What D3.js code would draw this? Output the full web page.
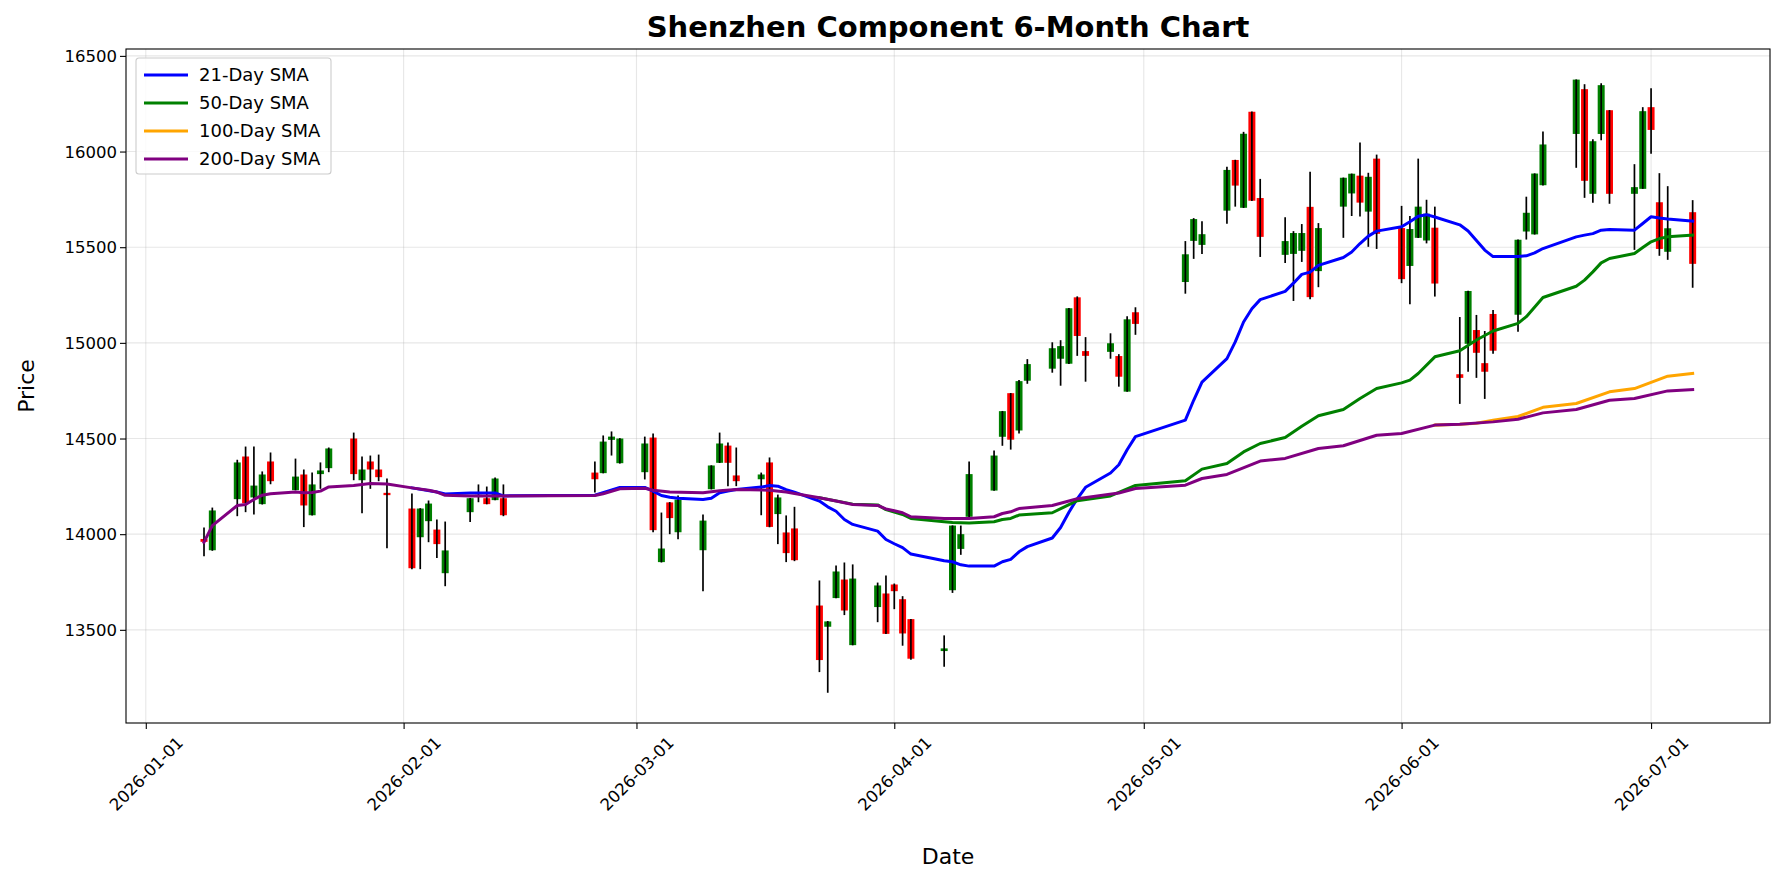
<!DOCTYPE html>
<html>
<head>
<meta charset="utf-8">
<script src="https://cdn.jsdelivr.net/npm/d3@7"></script>
<style>
  body { margin: 0; background: #fff; }
  svg { font-family: "DejaVu Sans", sans-serif; }
</style>
</head>
<body>
<svg id="chart" width="1785" height="885"></svg>
<script>
// Daily candles
const dates = [
  '2026-01-08','2026-01-09','2026-01-12','2026-01-13','2026-01-14','2026-01-15','2026-01-16',
  '2026-01-19','2026-01-20','2026-01-21','2026-01-22','2026-01-23','2026-01-26','2026-01-27',
  '2026-01-28','2026-01-29','2026-01-30','2026-02-02','2026-02-03','2026-02-04','2026-02-05',
  '2026-02-06','2026-02-09','2026-02-10','2026-02-11','2026-02-12','2026-02-13','2026-02-24',
  '2026-02-25','2026-02-26','2026-02-27','2026-03-02','2026-03-03','2026-03-04','2026-03-05',
  '2026-03-06','2026-03-09','2026-03-10','2026-03-11','2026-03-12','2026-03-13','2026-03-16',
  '2026-03-17','2026-03-18','2026-03-19','2026-03-20','2026-03-23','2026-03-24','2026-03-25',
  '2026-03-26','2026-03-27','2026-03-30','2026-03-31','2026-04-01','2026-04-02','2026-04-03',
  '2026-04-07','2026-04-08','2026-04-09','2026-04-10','2026-04-13','2026-04-14','2026-04-15',
  '2026-04-16','2026-04-17','2026-04-20','2026-04-21','2026-04-22','2026-04-23','2026-04-24',
  '2026-04-27','2026-04-28','2026-04-29','2026-04-30','2026-05-06','2026-05-07','2026-05-08',
  '2026-05-11','2026-05-12','2026-05-13','2026-05-14','2026-05-15','2026-05-18','2026-05-19',
  '2026-05-20','2026-05-21','2026-05-22','2026-05-25','2026-05-26','2026-05-27','2026-05-28',
  '2026-05-29','2026-06-01','2026-06-02','2026-06-03','2026-06-04','2026-06-05','2026-06-08',
  '2026-06-09','2026-06-10','2026-06-11','2026-06-12','2026-06-15','2026-06-16','2026-06-17',
  '2026-06-18','2026-06-22','2026-06-23','2026-06-24','2026-06-25','2026-06-26','2026-06-29',
  '2026-06-30','2026-07-01','2026-07-02','2026-07-03','2026-07-06'
];
const opens = [
  13975,13916,14183,14406,14192,14157,14380,14230,14312,14099,14314,14345,14500,14282,
  14380,14338,14216,14134,13984,14068,14024,13796,14115,14200,14188,14178,14188,14322,
  14319,14493,14371,14324,14505,13854,14166,14010,13916,14235,14373,14463,14307,14287,
  14375,14105,14009,14030,13627,13516,13666,13763,13420,13619,13690,13737,13660,13556,
  13389,13707,13923,14091,14228,14509,14737,14542,14802,14865,14917,14891,15238,14957,
  14953,14931,14745,15160,15318,15533,15512,15691,15956,15706,16208,15757,15460,15465,
  15481,15711,15375,15712,15781,15874,15686,15963,15600,15402,15549,15535,15602,14836,
  14995,15067,14894,15151,15147,15582,15567,15824,16092,16326,15779,16092,16216,15779,
  15805,16232,15735,15476,15683
];
const highs = [
  14035,14139,14389,14458,14458,14328,14427,14395,14338,14322,14375,14453,14531,14406,
  14411,14416,14291,14213,14136,14176,14077,14066,14189,14260,14249,14296,14260,14380,
  14516,14537,14502,14510,14526,14113,14168,14202,14103,14360,14531,14479,14453,14322,
  14401,14207,14098,14143,13758,13546,13836,13852,13842,13747,13784,13742,13676,13557,
  13471,14046,14045,14380,14437,14644,14738,14806,14915,15003,15014,15182,15243,15030,
  15050,14941,15139,15186,15532,15652,15636,15920,15957,16103,16209,15857,15657,15584,
  15621,15895,15626,15864,15885,16047,15889,15984,15716,15663,15963,15748,15712,15135,
  15272,15146,15062,15172,15540,15764,15886,16105,16377,16352,16064,16357,16217,15934,
  16232,16331,15887,15819,15746
];
const lows = [
  13885,13913,14094,14115,14103,14155,14261,14229,14037,14098,14237,14324,14282,14110,
  14237,14277,13927,13817,13817,13958,13875,13728,14063,14167,14156,14177,14094,14218,
  14318,14411,14369,14286,14010,13852,14000,13974,13702,14234,14372,14251,14251,14099,
  14036,13948,13854,13859,13279,13171,13665,13577,13419,13540,13478,13608,13417,13343,
  13307,13693,13892,14090,14227,14462,14442,14526,14786,14844,14776,14890,14932,14797,
  14917,14771,14744,15042,15257,15439,15465,15622,15712,15705,15742,15449,15418,15219,
  15423,15228,15291,15549,15663,15660,15502,15491,15312,15202,15548,15520,15242,14681,
  14849,14817,14707,14943,15058,15540,15566,15823,15915,15758,15732,16059,15727,15486,
  15805,15988,15455,15434,15288
];
const closes = [
  13960,14124,14375,14162,14254,14312,14277,14301,14150,14260,14333,14448,14314,14338,
  14338,14298,14204,13822,14134,14160,13948,13915,14188,14206,14157,14291,14099,14287,
  14484,14510,14500,14474,14021,13925,14084,14181,14071,14359,14474,14373,14277,14312,
  14038,14192,13901,13864,13342,13544,13805,13601,13768,13732,13479,13702,13481,13349,
  13403,14045,14000,14314,14411,14643,14494,14800,14889,14972,14983,15181,15036,14932,
  14998,14823,15123,15099,15463,15647,15568,15904,15822,16093,15743,15554,15532,15574,
  15574,15239,15600,15863,15884,15733,15868,15570,15333,15595,15712,15675,15310,14817,
  15271,14948,14849,14959,15539,15680,15885,16037,16376,15847,16054,16347,15779,15814,
  16211,16113,15491,15599,15413
];

// Moving-average lines, points ([date, value])
const sma21 = [
  ['2026-02-02',14242],['2026-02-05',14220],['2026-02-06',14210],['2026-02-09',14215],['2026-02-12',14215],
  ['2026-02-13',14200],['2026-02-24',14204],['2026-02-27',14244],['2026-03-02',14244],['2026-03-03',14225],
  ['2026-03-04',14202],['2026-03-05',14193],['2026-03-06',14188],['2026-03-09',14181],['2026-03-10',14188],
  ['2026-03-11',14216],['2026-03-12',14225],['2026-03-13',14233],['2026-03-16',14246],['2026-03-17',14254],
  ['2026-03-18',14251],['2026-03-19',14233],['2026-03-20',14220],['2026-03-23',14173],['2026-03-24',14143],
  ['2026-03-25',14120],['2026-03-26',14077],['2026-03-27',14051],['2026-03-30',14016],['2026-03-31',13972],
  ['2026-04-01',13950],['2026-04-02',13930],['2026-04-03',13896],['2026-04-07',13861],['2026-04-08',13856],
  ['2026-04-09',13840],['2026-04-10',13833],['2026-04-13',13833],['2026-04-14',13856],['2026-04-15',13868],
  ['2026-04-16',13908],['2026-04-17',13935],['2026-04-20',13980],['2026-04-21',14035],['2026-04-22',14115],
  ['2026-04-23',14185],['2026-04-24',14245],['2026-04-27',14320],['2026-04-28',14363],['2026-04-29',14441],
  ['2026-04-30',14510],['2026-05-06',14596],['2026-05-07',14700],['2026-05-08',14795],['2026-05-11',14918],
  ['2026-05-12',15005],['2026-05-13',15109],['2026-05-14',15178],['2026-05-15',15226],['2026-05-18',15269],
  ['2026-05-19',15312],['2026-05-20',15358],['2026-05-21',15370],['2026-05-22',15405],['2026-05-25',15446],
  ['2026-05-26',15475],['2026-05-27',15519],['2026-05-28',15558],['2026-05-29',15584],['2026-06-01',15607],
  ['2026-06-02',15633],['2026-06-03',15662],['2026-06-04',15670],['2026-06-05',15658],['2026-06-08',15617],
  ['2026-06-09',15585],['2026-06-10',15535],['2026-06-11',15485],['2026-06-12',15451],['2026-06-15',15451],
  ['2026-06-16',15455],['2026-06-17',15470],['2026-06-18',15493],['2026-06-22',15554],['2026-06-23',15563],
  ['2026-06-24',15571],['2026-06-25',15589],['2026-06-26',15592],['2026-06-29',15589],['2026-06-30',15624],
  ['2026-07-01',15659],['2026-07-02',15653],['2026-07-03',15648],['2026-07-06',15636]
];
const sma50 = [
  ['2026-03-23',14190],['2026-03-27',14157],['2026-03-30',14153],['2026-03-31',14128],['2026-04-01',14115],
  ['2026-04-02',14103],['2026-04-03',14082],['2026-04-07',14065],['2026-04-08',14061],['2026-04-10',14059],
  ['2026-04-13',14065],['2026-04-14',14077],['2026-04-15',14082],['2026-04-16',14100],['2026-04-20',14112],
  ['2026-04-23',14175],['2026-04-27',14200],['2026-04-30',14255],['2026-05-06',14279],['2026-05-08',14340],
  ['2026-05-11',14369],['2026-05-13',14430],['2026-05-15',14474],['2026-05-18',14505],['2026-05-20',14564],
  ['2026-05-22',14619],['2026-05-25',14652],['2026-05-27',14709],['2026-05-29',14761],['2026-06-01',14791],
  ['2026-06-02',14805],['2026-06-03',14840],['2026-06-05',14927],['2026-06-08',14959],['2026-06-10',15015],
  ['2026-06-12',15062],['2026-06-15',15102],['2026-06-16',15137],['2026-06-18',15237],['2026-06-22',15296],
  ['2026-06-23',15328],['2026-06-24',15371],['2026-06-25',15418],['2026-06-26',15441],['2026-06-29',15467],
  ['2026-06-30',15498],['2026-07-01',15528],['2026-07-02',15545],['2026-07-03',15554],['2026-07-06',15563]
];
const sma100 = [
  ['2026-06-05',14570],['2026-06-08',14574],['2026-06-10',14580],['2026-06-12',14595],['2026-06-15',14615],
  ['2026-06-18',14663],['2026-06-22',14683],['2026-06-26',14744],['2026-06-29',14761],['2026-07-03',14826],
  ['2026-07-06',14840]
];
const sma200 = [
  ['2026-01-08',13958],['2026-01-09',14045],['2026-01-12',14150],['2026-01-13',14155],['2026-01-14',14181],
  ['2026-01-15',14204],['2026-01-16',14211],['2026-01-19',14221],['2026-01-20',14216],['2026-01-21',14218],
  ['2026-01-22',14225],['2026-01-23',14247],['2026-01-26',14254],['2026-01-28',14265],['2026-01-30',14262],
  ['2026-02-02',14242],['2026-02-04',14230],['2026-02-05',14220],['2026-02-06',14203],['2026-02-09',14200],
  ['2026-02-13',14199],['2026-02-24',14202],['2026-02-25',14211],['2026-02-27',14237],['2026-03-02',14240],
  ['2026-03-03',14230],['2026-03-05',14220],['2026-03-09',14216],['2026-03-11',14227],['2026-03-13',14233],
  ['2026-03-17',14230],['2026-03-19',14220],['2026-03-20',14213],['2026-03-23',14190],['2026-03-25',14173],
  ['2026-03-27',14155],['2026-03-30',14150],['2026-03-31',14132],['2026-04-01',14122],['2026-04-02',14112],
  ['2026-04-03',14091],['2026-04-07',14082],['2026-04-10',14082],['2026-04-13',14091],['2026-04-14',14108],
  ['2026-04-15',14117],['2026-04-16',14134],['2026-04-20',14150],['2026-04-23',14185],['2026-04-28',14215],
  ['2026-04-30',14239],['2026-05-06',14256],['2026-05-08',14291],['2026-05-11',14312],['2026-05-15',14382],
  ['2026-05-18',14396],['2026-05-22',14448],['2026-05-25',14462],['2026-05-29',14517],['2026-06-01',14526],
  ['2026-06-05',14570],['2026-06-08',14574],['2026-06-12',14587],['2026-06-15',14601],['2026-06-18',14634],
  ['2026-06-22',14652],['2026-06-26',14700],['2026-06-29',14709],['2026-07-03',14749],['2026-07-06',14756]
];

const yTicks = [13500, 14000, 14500, 15000, 15500, 16000, 16500];
const xTicks = ['2026-01-01','2026-02-01','2026-03-01','2026-04-01','2026-05-01','2026-06-01','2026-07-01'];

const series = [
  { label: '21-Day SMA', color: 'blue', data: sma21 },
  { label: '50-Day SMA', color: 'green', data: sma50 },
  { label: '100-Day SMA', color: 'orange', data: sma100 },
  { label: '200-Day SMA', color: 'purple', data: sma200 }
];

const parse = d3.utcParse('%Y-%m-%d');
const DAY = 864e5;
const t0 = Date.UTC(2026, 0, 1);

const plot = { left: 126, right: 1770, top: 49, bottom: 723 };

const svg = d3.select('#chart');

const x = d3.scaleUtc()
  .domain([new Date(t0 - 2.38 * DAY), new Date(t0 + 195.3 * DAY)])
  .range([plot.left, plot.right]);
const y = d3.scaleLinear()
  .domain([13013, 16536])
  .range([plot.bottom, plot.top]);

// grid
const grid = svg.append('g').attr('stroke', '#b0b0b0').attr('stroke-opacity', 0.3).attr('stroke-width', 1.1);
grid.selectAll('.gy').data(yTicks).enter().append('line')
  .attr('x1', plot.left).attr('x2', plot.right)
  .attr('y1', d => y(d)).attr('y2', d => y(d));
grid.selectAll('.gx').data(xTicks).enter().append('line')
  .attr('y1', plot.top).attr('y2', plot.bottom)
  .attr('x1', d => x(parse(d))).attr('x2', d => x(parse(d)));

svg.append('defs').append('clipPath').attr('id', 'clip')
  .append('rect').attr('x', plot.left).attr('y', plot.top)
  .attr('width', plot.right - plot.left).attr('height', plot.bottom - plot.top);

// candles
const candles = dates.map((d, i) => ({ date: parse(d), o: opens[i], h: highs[i], l: lows[i], c: closes[i] }));
const bodyW = x(new Date(t0 + 0.84 * DAY)) - x(new Date(t0));

const cg = svg.append('g').attr('clip-path', 'url(#clip)');
cg.selectAll('.body').data(candles).enter().append('rect')
  .attr('x', d => x(d.date) - bodyW / 2)
  .attr('width', bodyW)
  .attr('y', d => y(Math.max(d.o, d.c)))
  .attr('height', d => Math.max(1, Math.abs(y(d.o) - y(d.c))))
  .attr('fill', d => d.c >= d.o ? 'green' : 'red');
cg.selectAll('.wick').data(candles).enter().append('line')
  .attr('x1', d => x(d.date)).attr('x2', d => x(d.date))
  .attr('y1', d => y(d.h)).attr('y2', d => y(d.l))
  .attr('stroke', 'black').attr('stroke-width', 1.7);

// moving averages
const line = d3.line().x(d => x(parse(d[0]))).y(d => y(d[1]));
cg.selectAll('.sma').data(series).enter().append('path')
  .attr('d', d => line(d.data))
  .attr('fill', 'none')
  .attr('stroke', d => d.color)
  .attr('stroke-width', 3)
  .attr('stroke-linejoin', 'round')
  .attr('stroke-linecap', 'square');

// axes
const xAxis = svg.append('g')
  .attr('transform', `translate(0,${plot.bottom})`)
  .call(d3.axisBottom(x).tickValues(xTicks.map(parse)).tickFormat(d3.utcFormat('%Y-%m-%d')).tickSize(6).tickSizeOuter(0));
const yAxis = svg.append('g')
  .attr('transform', `translate(${plot.left},0)`)
  .call(d3.axisLeft(y).tickValues(yTicks).tickFormat(d3.format('d')).tickSize(6).tickSizeOuter(0));

[xAxis, yAxis].forEach(a => {
  a.select('.domain').remove();
  a.selectAll('.tick line').attr('stroke', 'black').attr('stroke-width', 1.1);
  a.selectAll('.tick text').attr('fill', 'black').style('font-size', '16.5px').style('font-family', '"DejaVu Sans", sans-serif');
});
yAxis.selectAll('.tick text').attr('x', -9).attr('dy', '0.35em');

// rotated date labels, centred under the tick like matplotlib rotation=45
xAxis.selectAll('.tick text').each(function () {
  const t = d3.select(this);
  const w = this.getComputedTextLength();
  const h = 16.5;
  const off = (w + h) / (2 * Math.SQRT2);
  t.attr('y', 0).attr('dy', '0.35em')
    .attr('text-anchor', 'middle')
    .attr('transform', `translate(0,${11 + off}) rotate(-45)`);
});

// frame
svg.append('rect')
  .attr('x', plot.left).attr('y', plot.top)
  .attr('width', plot.right - plot.left).attr('height', plot.bottom - plot.top)
  .attr('fill', 'none').attr('stroke', 'black').attr('stroke-width', 1.1);

// titles
svg.append('text')
  .attr('x', (plot.left + plot.right) / 2).attr('y', 37)
  .attr('text-anchor', 'middle')
  .style('font-size', '29px').style('font-weight', 'bold')
  .text('Shenzhen Component 6-Month Chart');
svg.append('text')
  .attr('x', (plot.left + plot.right) / 2).attr('y', 864)
  .attr('text-anchor', 'middle')
  .style('font-size', '22px')
  .text('Date');
svg.append('text')
  .attr('transform', `translate(34,${(plot.top + plot.bottom) / 2}) rotate(-90)`)
  .attr('text-anchor', 'middle')
  .style('font-size', '22px')
  .text('Price');

// legend
const legend = svg.append('g').attr('transform', 'translate(136,58)');
legend.append('rect')
  .attr('width', 195).attr('height', 116).attr('rx', 3)
  .attr('fill', 'white').attr('fill-opacity', 0.8)
  .attr('stroke', '#cccccc').attr('stroke-width', 1.1);
const entries = legend.selectAll('.entry').data(series).enter().append('g')
  .attr('transform', (d, i) => `translate(0,${17 + i * 28})`);
entries.append('line')
  .attr('x1', 8).attr('x2', 52).attr('y1', 0).attr('y2', 0)
  .attr('stroke', d => d.color).attr('stroke-width', 3);
entries.append('text')
  .attr('x', 63).attr('y', 0).attr('dy', '0.35em')
  .style('font-size', '18px')
  .text(d => d.label);
</script>
</body>
</html>
